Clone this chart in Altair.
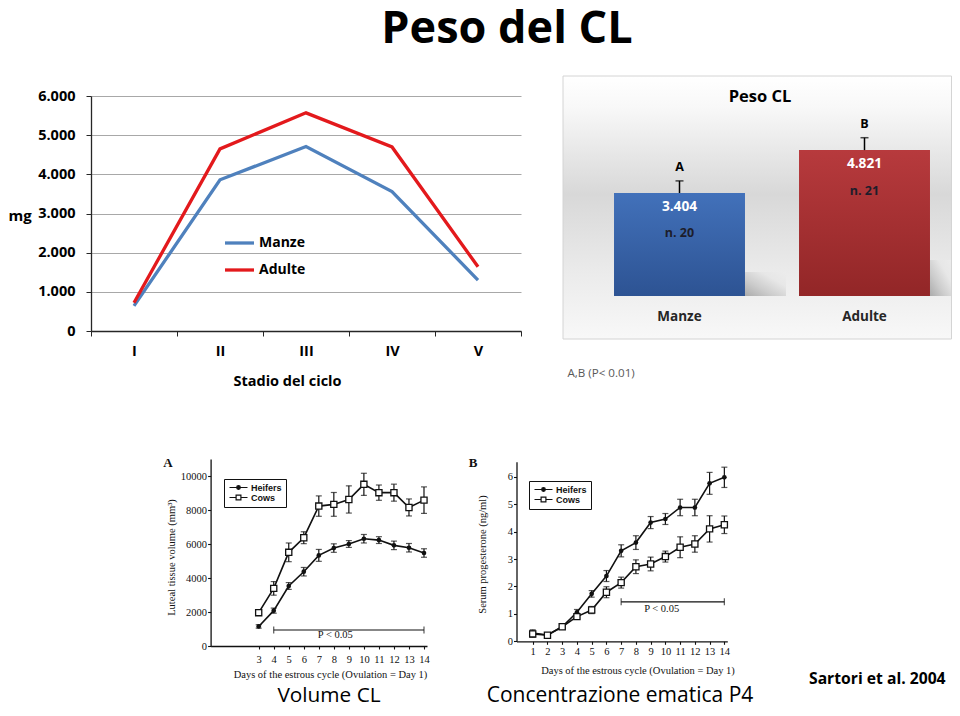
import altair as alt
import pandas as pd

# ---------------- data ----------------
# top-left: CL weight (mg) by cycle stage
stages = ["I", "II", "III", "IV", "V"]
manze_mg = [640, 3860, 4710, 3560, 1300]
adulte_mg = [720, 4650, 5570, 4700, 1640]
line_series = ["Manze", "Adulte"]
mg_ticks = [0, 1000, 2000, 3000, 4000, 5000, 6000]

# top-right: Peso CL bars
bar_groups = ["Manze", "Adulte"]
bar_means = [3404, 4821]
bar_sem = [400, 410]
bar_value_text = ["3.404", "4.821"]
bar_n_text = ["n. 20", "n. 21"]
bar_letters = ["A", "B"]

# bottom-left: luteal tissue volume (mm3)
days_a = [3, 4, 5, 6, 7, 8, 9, 10, 11, 12, 13, 14]
heifers_vol = [1150, 2080, 3530, 4370, 5330, 5760, 6000, 6310, 6230, 5920, 5780, 5470]
heifers_vol_err = [100, 150, 200, 250, 350, 250, 200, 250, 200, 250, 250, 250]
cows_vol = [1960, 3390, 5510, 6370, 8230, 8330, 8620, 9510, 9020, 9020, 8150, 8580]
cows_vol_err = [150, 400, 550, 350, 600, 700, 800, 650, 450, 500, 500, 780]
vol_ticks = [0, 2000, 4000, 6000, 8000, 10000]
sig_a_days = [4, 14]
sig_a_level = 940
sig_a_text_day = 8.1
sig_a_text_level = 650

# bottom-right: serum progesterone (ng/ml)
days_b = [1, 2, 3, 4, 5, 6, 7, 8, 9, 10, 11, 12, 13, 14]
heifers_p4 = [0.30, 0.23, 0.53, 1.06, 1.73, 2.38, 3.30, 3.60, 4.33, 4.46, 4.88, 4.88, 5.76, 5.98]
heifers_p4_err = [0.12, 0.05, 0.05, 0.10, 0.12, 0.20, 0.22, 0.25, 0.22, 0.20, 0.30, 0.30, 0.40, 0.37]
cows_p4 = [0.27, 0.22, 0.53, 0.90, 1.14, 1.79, 2.14, 2.72, 2.82, 3.09, 3.43, 3.55, 4.10, 4.25]
cows_p4_err = [0.12, 0.05, 0.05, 0.10, 0.13, 0.20, 0.20, 0.25, 0.25, 0.20, 0.38, 0.30, 0.48, 0.32]
p4_ticks = [0, 1, 2, 3, 4, 5, 6]
sig_b_days = [7, 14]
sig_b_level = 1.44
sig_b_text_day = 9.75
sig_b_text_level = 1.17

fig_series = ["Heifers", "Cows"]

# ---------------- styling / layout ----------------
W, H = 944, 700
SANS = "Open Sans"
SERIF = "Liberation Serif"
ARIAL = "Liberation Sans"
INK = "#111111"
BLUE = "#4F81BD"
RED = "#E3191C"

one = pd.DataFrame({"k": [0]})


def label(text, x, y, size, weight="normal", font=SANS, align="center",
          baseline="middle", color="black"):
    return alt.Chart(one).mark_text(
        text=text, fontSize=size, fontWeight=weight, font=font, align=align,
        baseline=baseline, color=color
    ).encode(x=alt.value(x), y=alt.value(y))


# ---------------- top-left line chart ----------------
line_df = pd.DataFrame({
    "stage": stages * 2,
    "idx": list(range(len(stages))) * 2,
    "mg": manze_mg + adulte_mg,
    "series": [line_series[0]] * len(stages) + [line_series[1]] * len(stages),
})
L1_X = [83, 513]
L1_Y = [323, 88]

line_path = "M-1,0L4.8,0"
sub1 = alt.Chart(line_df).mark_line(strokeWidth=3.3).encode(
    x=alt.X("stage:N", bandPosition=0.5,
            scale=alt.Scale(type="band", domain=stages, range=L1_X,
                            paddingInner=0, paddingOuter=0),
            axis=alt.Axis(orient="bottom", offset=L1_Y[0] - H, tickBand="extent",
                          domainColor="#262626", domainWidth=1.3, tickColor="#262626",
                          tickSize=5, labelFont=SANS, labelFontWeight="bold",
                          labelFontSize=14.5, labelColor="black", labelPadding=8,
                          labelAngle=0, grid=False, title="Stadio del ciclo",
                          titleFont=SANS, titleFontWeight="bold", titleFontSize=14.5,
                          titleColor="black", titleX=279, titleY=50,
                          titleBaseline="middle")),
    y=alt.Y("mg:Q",
            scale=alt.Scale(domain=[0, 6000], range=L1_Y, nice=False, zero=False),
            axis=alt.Axis(orient="left", offset=-L1_X[0], values=mg_ticks,
                          labelExpr="replace(format(datum.value, ','), ',', '.')",
                          grid=True, gridColor="#a8a8a8", gridWidth=1,
                          domainColor="#262626", domainWidth=1.3, tickColor="#262626",
                          tickSize=5, labelFont=SANS, labelFontWeight="bold",
                          labelFontSize=14.5, labelColor="black", labelPadding=11,
                          title="mg", titleAngle=0, titleX=-L1_X[0], titleY=207,
                          titleAlign="left", titleBaseline="middle", titleFont=SANS,
                          titleFontWeight="bold", titleFontSize=15, titleColor="black")),
    stroke=alt.Stroke("series:N",
                      scale=alt.Scale(domain=line_series, range=[BLUE, RED]),
                      legend=alt.Legend(orient="none", legendX=215, legendY=228,
                                        title=None, symbolType=line_path,
                                        symbolSize=100, symbolStrokeWidth=3.3,
                                        labelFont=SANS, labelFontWeight="bold",
                                        labelFontSize=14, labelColor="black",
                                        labelOffset=22, rowPadding=13, padding=0)),
    order=alt.Order("idx:Q"),
)

# ---------------- top-right bar chart ----------------
bar_df = pd.DataFrame({
    "group": bar_groups,
    "mean": bar_means,
    "top": [m + s for m, s in zip(bar_means, bar_sem)],
    "vtext": bar_value_text,
    "ntext": bar_n_text,
    "letter": bar_letters,
})
BAR_X = [579, 949]
BAR_Y = [288, 288 - 151.3]


def xb(axis=None):
    return alt.X("group:N",
                 scale=alt.Scale(type="band", domain=bar_groups, range=BAR_X,
                                 paddingInner=0.292, paddingOuter=0.146),
                 axis=axis)


def yb(field):
    return alt.Y(field, type="quantitative",
                 scale=alt.Scale(domain=[0, 5000], range=BAR_Y, nice=False, zero=False),
                 axis=None)


bar_axis = alt.Axis(orient="bottom", offset=BAR_Y[0] - H, domain=False, ticks=False,
                    tickSize=0, grid=False, zindex=2, labelFont=SANS,
                    labelFontWeight="bold", labelFontSize=13.5, labelColor="#262626",
                    labelPadding=13, labelAngle=0, title="A,B (P< 0.01)",
                    titleFont=SANS, titleFontWeight="normal", titleFontSize=11.6,
                    titleColor="#595959", titleX=559, titleY=77, titleAlign="left",
                    titleBaseline="middle")


def grad(top, bottom):
    return alt.LinearGradient(gradient="linear", x1=0, y1=0, x2=0, y2=1,
                              stops=[alt.GradientStop(color=top, offset=0),
                                     alt.GradientStop(color=bottom, offset=1)])


shadow_fill = alt.LinearGradient(gradient="linear", x1=0, y1=1, x2=1, y2=0, stops=[
    alt.GradientStop(color="#9a9a9a", offset=0),
    alt.GradientStop(color="#c4c4c4", offset=0.35),
    alt.GradientStop(color="#e6e6e6", offset=0.7),
    alt.GradientStop(color="#ececec", offset=1)])

bar_base = alt.Chart(bar_df)
bar_units = [
    alt.Chart(one).mark_rect(fill=shadow_fill, opacity=0.8).encode(
        x=alt.value(737), x2=alt.value(778), y=alt.value(264), y2=alt.value(288)),
    alt.Chart(one).mark_rect(fill=shadow_fill, opacity=0.8).encode(
        x=alt.value(922), x2=alt.value(943), y=alt.value(252), y2=alt.value(288)),
    bar_base.transform_filter(f"datum.group == '{bar_groups[0]}'").mark_bar(
        fill=grad("#4271BA", "#2D5393")).encode(x=xb(bar_axis), y=yb("mean")),
    bar_base.transform_filter(f"datum.group == '{bar_groups[1]}'").mark_bar(
        fill=grad("#B73A3D", "#922627")).encode(x=xb(), y=yb("mean")),
    bar_base.mark_rule(color="black", strokeWidth=1.5).encode(
        x=xb(), y=yb("mean"), y2="top"),
    bar_base.mark_tick(orient="horizontal", size=8, thickness=1.5,
                       color="black").encode(x=xb(), y=yb("top")),
    bar_base.mark_text(color="white", font=SANS, fontWeight="bold", fontSize=13.7,
                       dy=14, baseline="middle").encode(
        x=xb(), y=yb("mean"), text="vtext:N"),
    bar_base.mark_text(color="#1d1d2b", font=SANS, fontWeight="bold", fontSize=12.5,
                       dy=40.5, baseline="middle").encode(
        x=xb(), y=yb("mean"), text="ntext:N"),
    bar_base.mark_text(color="black", font=SANS, fontWeight="bold", fontSize=12.5,
                       dy=-14, baseline="middle").encode(
        x=xb(), y=yb("top"), text="letter:N"),
]

box = alt.Chart(one).mark_rect(
    fill=alt.LinearGradient(gradient="linear", x1=0, y1=0, x2=0, y2=1, stops=[
        alt.GradientStop(color="#ffffff", offset=0),
        alt.GradientStop(color="#f8f8f8", offset=0.12),
        alt.GradientStop(color="#d8d8d8", offset=0.45),
        alt.GradientStop(color="#ebebeb", offset=0.75),
        alt.GradientStop(color="#f8f8f8", offset=1)]),
    stroke="#d4d4d4", strokeWidth=1,
).encode(x=alt.value(555), x2=alt.value(943.5), y=alt.value(68), y2=alt.value(331))


# ---------------- bottom scanned-style figures ----------------
PATH_H = "M-1,0L5,0M2.6,0A0.6,0.6,0,1,1,1.4,0A0.6,0.6,0,1,1,2.6,0Z"
PATH_C = "M-1,0L1.2,0M2.8,0L5,0M1.2,-0.8L2.8,-0.8L2.8,0.8L1.2,0.8Z"


def fig_df(days, h, he, c, ce):
    rows = []
    for s, vals, errs in ((fig_series[0], h, he), (fig_series[1], c, ce)):
        for d, v, e in zip(days, vals, errs):
            rows.append({"series": s, "day": d, "val": v, "lo": v - e, "hi": v + e})
    return pd.DataFrame(rows)


def figure(df, xdom, xrange, ydom, yrange, xticks, yticks, ytitle, ytitle_xy,
           xtitle_xy, xlabpad, ylabpad, legend_xy, sig_days, sig_level,
           sig_text_day, sig_text_level):
    common = dict(grid=False, tickSize=3, tickWidth=1.1, tickColor=INK, domainColor=INK,
                  domainWidth=1.3, labelFont=SERIF, labelFontSize=10.5, labelColor=INK,
                  labelOverlap=False, labelFlush=False, format="d", titleFont=SERIF,
                  titleFontSize=10.5, titleFontWeight="normal", titleColor=INK)
    xaxis = alt.Axis(orient="bottom", offset=yrange[0] - H, values=xticks,
                     labelPadding=xlabpad,
                     title="Days of the estrous cycle (Ovulation = Day 1)",
                     titleX=xtitle_xy[0], titleY=xtitle_xy[1] - yrange[0],
                     titleBaseline="middle", titleAlign="center", **common)
    yaxis = alt.Axis(orient="left", offset=-xrange[0], values=yticks,
                     labelPadding=ylabpad, title=ytitle, titleAngle=270,
                     titleX=ytitle_xy[0] - xrange[0], titleY=ytitle_xy[1],
                     titleBaseline="middle", titleAlign="center", **common)

    def X(f, ax=None):
        return alt.X(f, type="quantitative",
                     scale=alt.Scale(domain=xdom, range=xrange, nice=False, zero=False),
                     axis=ax)

    def Y(f, ax=None):
        return alt.Y(f, type="quantitative",
                     scale=alt.Scale(domain=ydom, range=yrange, nice=False, zero=False),
                     axis=ax)

    base = alt.Chart(df)
    units = [
        base.mark_rule(color=INK, strokeWidth=1.2).encode(
            x=X("day", xaxis), y=Y("lo", yaxis), y2="hi"),
        base.mark_tick(orient="horizontal", size=6, thickness=1.2,
                       color=INK).encode(x=X("day"), y=Y("lo")),
        base.mark_tick(orient="horizontal", size=6, thickness=1.2,
                       color=INK).encode(x=X("day"), y=Y("hi")),
        base.mark_line(color=INK, strokeWidth=1.6).encode(
            x=X("day"), y=Y("val"), detail="series:N"),
        base.transform_filter(f"datum.series == '{fig_series[0]}'").mark_point(
            shape="circle", filled=True, size=22, color=INK, opacity=1).encode(
            x=X("day"), y=Y("val")),
        base.transform_filter(f"datum.series == '{fig_series[1]}'").mark_point(
            shape="square", filled=True, fill="white", stroke=INK, strokeWidth=1.3,
            size=38, opacity=1).encode(x=X("day"), y=Y("val")),
    ]
    leg_props = dict(orient="none", legendX=legend_xy[0], legendY=legend_xy[1],
                     title=None, padding=4, strokeColor=INK, symbolSize=36,
                     symbolStrokeWidth=1.2, symbolOpacity=1,
                     labelFont=ARIAL, labelFontWeight="bold", labelFontSize=9,
                     labelColor=INK, labelOffset=14, rowPadding=-2)
    units.append(base.mark_point(opacity=0, filled=False, strokeWidth=1.2).encode(
        x=X("day"), y=Y("val"),
        shape=alt.Shape("series:N", scale=alt.Scale(domain=fig_series,
                                                     range=[PATH_H, PATH_C]),
                        legend=alt.Legend(**leg_props)),
        fill=alt.Fill("series:N", scale=alt.Scale(domain=fig_series,
                                                   range=[INK, "white"]),
                      legend=alt.Legend(**leg_props)),
        stroke=alt.Stroke("series:N", scale=alt.Scale(domain=fig_series,
                                                       range=[INK, INK]),
                          legend=alt.Legend(**leg_props)),
    ))
    br_df = pd.DataFrame({"a": [sig_days[0]], "b": [sig_days[1]], "lvl": [sig_level]})
    units.append(alt.Chart(br_df).mark_rule(color=INK, strokeWidth=1.2).encode(
        x=X("a"), x2="b", y=Y("lvl")))
    ends_df = pd.DataFrame({"d": sig_days, "lvl": [sig_level] * 2})
    units.append(alt.Chart(ends_df).mark_tick(orient="vertical", size=7, thickness=1.2,
                                              color=INK).encode(x=X("d"), y=Y("lvl")))
    pt_df = pd.DataFrame({"d": [sig_text_day], "lvl": [sig_text_level],
                          "t": ["P < 0.05"]})
    units.append(alt.Chart(pt_df).mark_text(font=SERIF, fontSize=10.5, color=INK,
                                            baseline="middle").encode(
        x=X("d"), y=Y("lvl"), text="t:N"))
    return units


figA = figure(fig_df(days_a, heifers_vol, heifers_vol_err, cows_vol, cows_vol_err),
              xdom=[-0.2, 14.2], xrange=[202.6, 419.0], ydom=[0, 11000],
              yrange=[638, 451], xticks=days_a, yticks=vol_ticks,
              ytitle="Luteal tissue volume (mm³)", ytitle_xy=(163, 549),
              xtitle_xy=(322, 666), xlabpad=5, ylabpad=1, legend_xy=(216, 471),
              sig_days=sig_a_days, sig_level=sig_a_level,
              sig_text_day=sig_a_text_day, sig_text_level=sig_a_text_level)

figB = figure(fig_df(days_b, heifers_p4, heifers_p4_err, cows_p4, cows_p4_err),
              xdom=[-0.1, 14.2], xrange=[508.5, 719.3], ydom=[0, 6.55],
              yrange=[633.3, 453.7], xticks=days_b, yticks=p4_ticks,
              ytitle="Serum progesterone (ng/ml)", ytitle_xy=(474, 546),
              xtitle_xy=(629.5, 662.7), xlabpad=2, ylabpad=1, legend_xy=(521, 473),
              sig_days=sig_b_days, sig_level=sig_b_level,
              sig_text_day=sig_b_text_day, sig_text_level=sig_b_text_level)

texts = [
    label("Peso del CL", 499, 35, 45, weight="bold", baseline="alphabetic"),
    label("Peso CL", 752, 89, 16.5, weight="bold"),
    label("A", 160, 455, 13, weight="bold", font=SERIF, color=INK),
    label("B", 465, 455, 13, weight="bold", font=SERIF, color=INK),
    label("Volume CL", 321, 694, 20.8, baseline="alphabetic"),
    label("Concentrazione ematica P4", 612, 694, 21, baseline="alphabetic"),
    label("Sartori et al.  2004", 801, 676, 15.7, weight="bold", align="left",
          baseline="alphabetic"),
]

chart = alt.layer(box, sub1, *bar_units, *figA, *figB, *texts).properties(
    width=W, height=H, padding=0, autosize=alt.AutoSizeParams(type="none")
).resolve_scale(
    x="independent", y="independent", stroke="independent",
    shape="independent", fill="independent"
).resolve_axis(
    x="independent", y="independent"
).resolve_legend(
    stroke="independent", shape="independent", fill="independent"
).configure_view(stroke=None)

chart.save("out.html", embed_options={"renderer": "svg", "actions": False})
